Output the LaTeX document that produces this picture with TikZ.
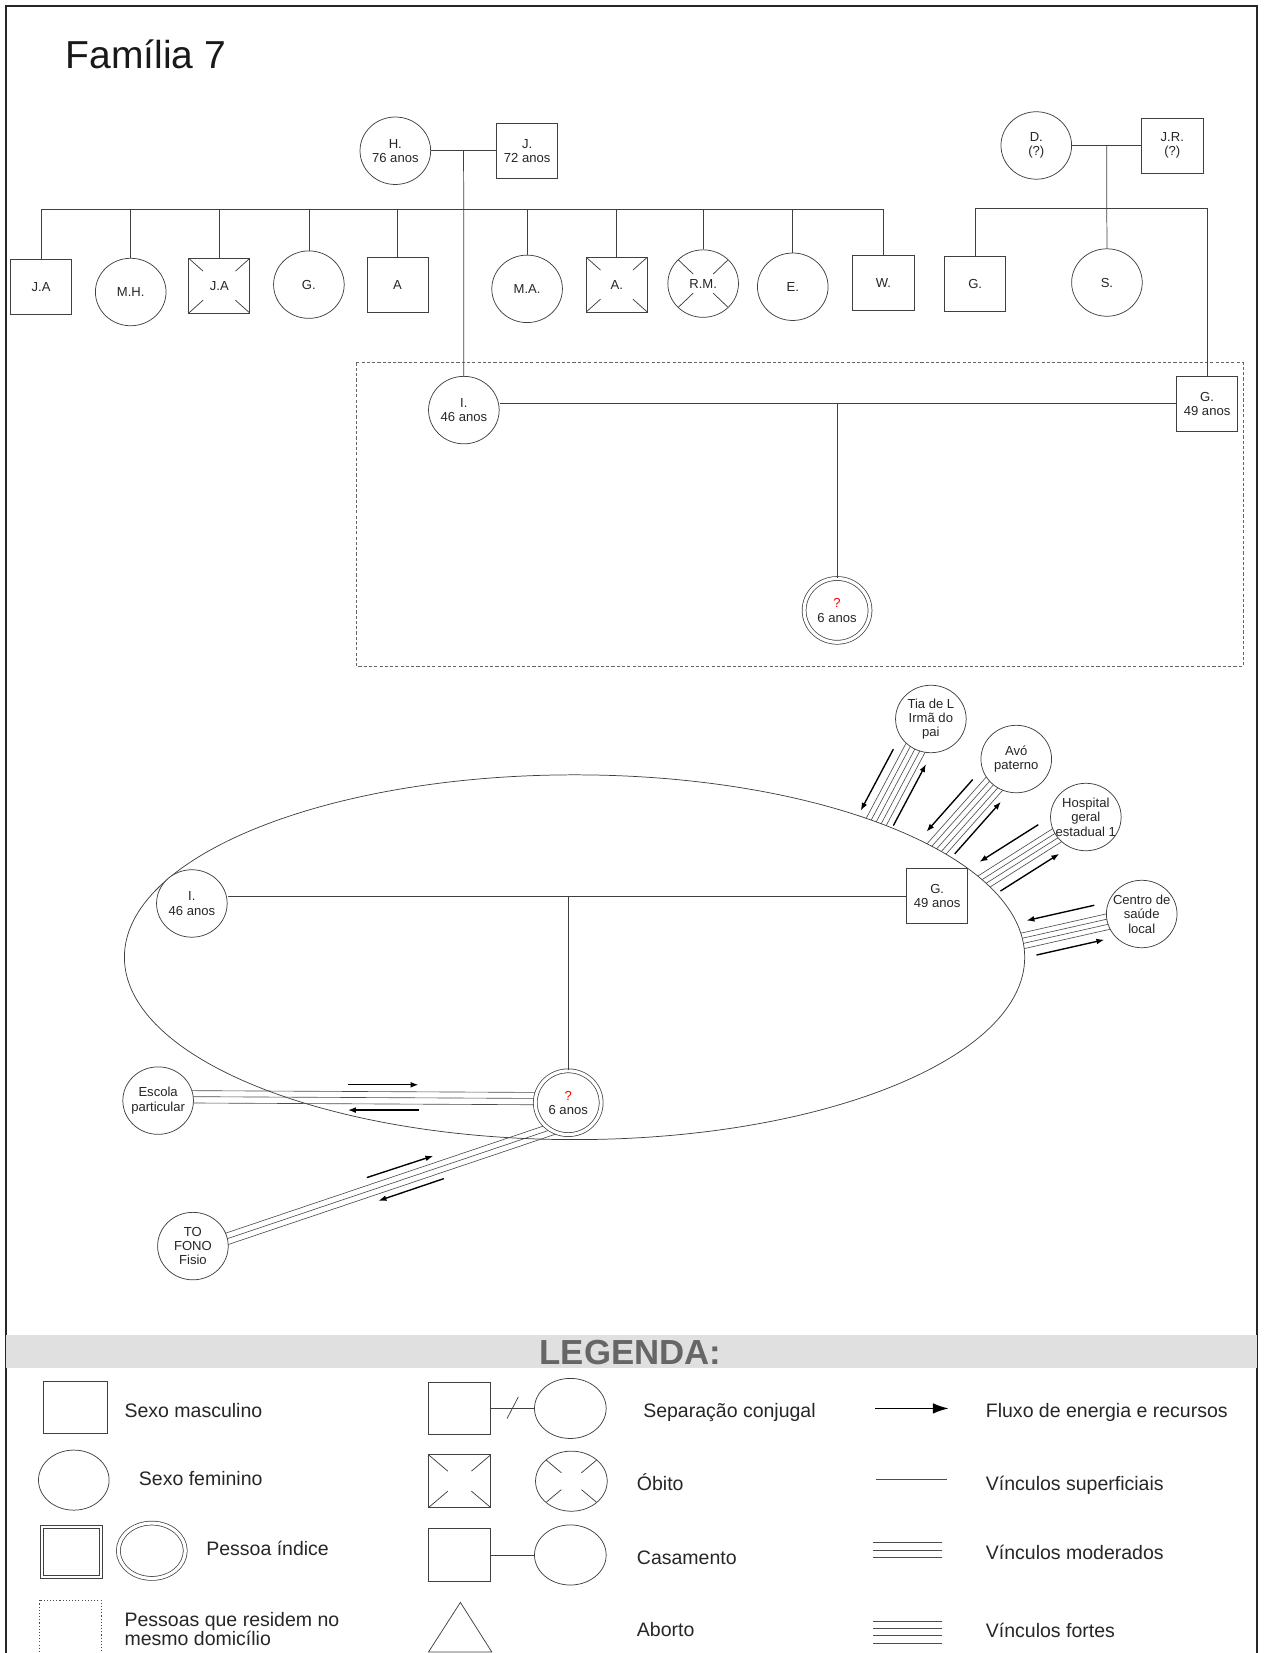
\documentclass[tikz,border=0pt]{standalone}
\usepackage{fontspec}
\setmainfont{Liberation Sans}
\usetikzlibrary{shapes.geometric,calc,arrows.meta,backgrounds}
\tikzset{
	txt/.style={font=\fontsize{12.4}{13.6}\selectfont,align=center,text=black!85,inner sep=0pt},
	person/.style={draw=black!75,line width=0.7pt,fill=white,inner sep=0pt,label={[txt]center:{#1}}},
	person/.default={},
	masc/.style={person={#1},rectangle,minimum width=58pt,minimum height=52pt},
	masc/.default={},
	fem/.style={person={#1},ellipse,minimum width=67pt,minimum height=64pt},
	fem/.default={},
	idx/.style={fem={#1},double,double distance=3pt,minimum width=62.5pt,minimum height=60.5pt},
	idx/.default={},
	deadsq/.style={path picture={\foreach \c in {north west,north east,south east,south west}
		\draw[black!75,line width=0.7pt] (path picture bounding box.\c) -- ($(path picture bounding box.\c)!#1!(path picture bounding box.center)$);}},
	deadsq/.default=0.47,
	deadci/.style={path picture={\foreach \c in {north west,north east,south east,south west}
		\draw[black!75,line width=0.7pt] ($(path picture bounding box.\c)!0.3!(path picture bounding box.center)$) -- ($(path picture bounding box.\c)!0.72!(path picture bounding box.center)$);}},
	kin/.style={draw=black!75,line width=0.7pt},
	tie/.style={draw=black!70,line width=0.6pt},
	flow/.style={-{Latex[length=7.5pt,width=5.5pt]},line width=1.3pt,black},
	legtxt/.style={font=\fontsize{18.5}{18.4}\selectfont,anchor=base west,align=left,text=black!85,inner sep=0pt}
}
\begin{document}
\begin{tikzpicture}[x=1pt,y=-1pt]
	\useasboundingbox (0,0) rectangle (1199,1568);
	\draw[line width=1.8pt,black!85] (6,1575) -- (6,6) -- (1192,6) -- (1192,1575);
	\node[font=\fontsize{37}{40}\selectfont,anchor=base west,text=black!90,inner sep=0pt] (title) at (62,65) {Família 7};

	\node[fem={H.\\76 anos}] (H) at (375,143) {};
	\node[masc={J.\\72 anos}] (J) at (500,143) {};
	\node[fem={D.\\(?)}] (D) at (983,138) {};
	\node[masc={J.R.\\(?)}] (JR) at (1112,138) {};
	\node[masc={J.A}] (c1) at (39,272) {};
	\node[fem={M.H.}] (c2) at (124,277) {};
	\node[masc={J.A},deadsq] (c3) at (208,271) {};
	\node[fem={G.}] (c4) at (293,270) {};
	\node[masc={A}] (c5) at (377,270) {};
	\node[fem={M.A.}] (c6) at (500,274) {};
	\node[masc={A.},deadsq] (c7) at (585,270) {};
	\node[fem={R.M.},deadci] (c8) at (667,269) {};
	\node[fem={E.}] (c9) at (752,272) {};
	\node[masc={W.}] (c10) at (838,268) {};
	\node[masc={G.}] (c11) at (925,269) {};
	\node[fem={S.}] (c12) at (1050,268) {};

	\draw[black!60,line width=0.8pt,dash pattern=on 3pt off 2pt] (338,344) rectangle (1179,632);
	\node[fem={I.\\46 anos}] (I) at (440,389) {};
	\node[masc={G.\\49 anos}] (G) at (1145,383) {};
	\node[idx={{\color{red}?}\\6 anos}] (K) at (794,579) {};

	\draw[kin] (H.east) -- (J.west);
	\coordinate (hj) at ($(H.east)!.5!(J.west)$);
	\coordinate (sib) at ($(hj)+(0,56)$);
	\draw[kin] (hj) -- (I.north);
	\draw[kin] (c1.north) |- (c10.north |- sib) -- (c10.north);
	\foreach \c in {c2,c3,c4,c5,c6,c7,c8,c9}
		\draw[kin] (\c.north) -- (\c.north |- sib);
	\draw[kin] (D.east) -- (JR.west);
	\coordinate (dj) at ($(D.east)!.5!(JR.west)$);
	\draw[kin] (dj) -- (c12.north);
	\draw[kin] (c11.north) |- ($(dj)+(0,60)$) -| (G.north);
	\draw[kin] (G.west) -- (G.west -| I.east);
	\draw[kin] (K.north) -- (K.north |- G.west);

	\draw[kin] (545,908) ellipse [x radius=427, y radius=173];
	\node[fem={I.\\46 anos}] (I2) at (182,857) {};
	\node[masc={G.\\49 anos}] (G2) at (889,850) {};
	\node[idx={{\color{red}?}\\6 anos}] (K2) at (539,1046) {};
	\node[fem={Escola\\particular}] (Esc) at (150,1044) {};
	\node[fem={TO\\FONO\\Fisio}] (TO) at (183,1182) {};
	\node[fem={Tia de L\\Irmã do\\pai}] (Tia) at (883,682) {};
	\node[fem={Avó\\paterno}] (Avo) at (964,720) {};
	\node[fem={Hospital\\geral\\estadual 1}] (Hosp) at (1030,775) {};
	\node[fem={Centro de\\saúde\\local}] (Cen) at (1083,867) {};
	\draw[kin] (G2.west) -- (G2.west -| I2.east);
	\draw[kin] (K2.north) -- (K2.north |- G2.west);

	\coordinate (tTia) at ($(Tia)+(-94,177)$);
	\coordinate (tAvo) at ($(Avo)+(-133,150)$);
	\coordinate (tHosp) at ($(Hosp)+(-169,107)$);
	\coordinate (tCen) at ($(Cen)+(-195,44)$);
	\coordinate (Tt) at ($(TO)+(0,4)$);
	\coordinate (Kt) at ($(K2)+(0,20)$);
	\begin{scope}[on background layer]
		\foreach \o in {9.6pt,3.9pt,-2.1pt}
			\draw[tie] ($(Esc)!\o!90:(K2)$) -- ($(K2)!\o!-90:(Esc)$);
		\foreach \o in {5.5pt,0pt,-5.5pt}
			\draw[tie] ($(Tt)!\o!90:(Kt)$) -- ($(Kt)!\o!-90:(Tt)$);
		\begin{scope}[even odd rule]
			\clip (545,908) ellipse [x radius=427, y radius=173] (0,0) rectangle (1199,1568);
			\foreach \o in {-10pt,-5pt,0pt,5pt,10pt} {
				\draw[tie] ($(Tia)!\o!90:(tTia)$) -- ($(tTia)!\o!-90:(Tia)$);
				\draw[tie] ($(Avo)!\o!90:(tAvo)$) -- ($(tAvo)!\o!-90:(Avo)$);
			}
			\foreach \o in {-7.5pt,-2.5pt,2.5pt,7.5pt} {
				\draw[tie] ($(Hosp)!\o!90:(tHosp)$) -- ($(tHosp)!\o!-90:(Hosp)$);
				\draw[tie] ($(Cen)!\o!90:(tCen)$) -- ($(tCen)!\o!-90:(Cen)$);
			}
		\end{scope}
	\end{scope}
	\foreach \x/\t in {Tia/tTia,Avo/tAvo,Hosp/tHosp,Cen/tCen} {
		\draw[flow] ($(\x)!42pt!(\t)!18pt!-90:(\t)$) -- ($(\x)!108pt!(\t)!18pt!-90:(\t)$);
		\draw[flow] ($(\x)!106pt!(\t)!16pt!90:(\t)$) -- ($(\x)!40pt!(\t)!16pt!90:(\t)$);
	}
	\draw[flow] (330,1029) -- (397,1029);
	\draw[flow] (397,1053) -- (330,1053);
	\draw[flow] (348,1117) -- (411,1096.4);
	\draw[flow] (421,1118) -- (359,1139);

	\fill[black!12] (6,1266) rectangle (1192,1298);
	\node[font=\bfseries\fontsize{33}{36}\selectfont,text=black!60,anchor=base,inner sep=0pt] (leg) at (598,1294) {LEGENDA:};
	\node[masc,minimum width=60pt,minimum height=50pt] (Lm) at (71.6,1335) {};
	\node[fem,minimum width=67pt,minimum height=57pt] (Lf) at (70,1404) {};
	\node[masc,minimum width=59pt,minimum height=50pt] (Lim) at (68,1472) {};
	\draw[kin] ($(Lim.north west)+(3.2,3.2)$) rectangle ($(Lim.south east)+(-3.2,-3.2)$);
	\node[fem,double,double distance=3pt,minimum width=63.5pt,minimum height=52.5pt] (Lif) at (144,1471) {};
	\draw[black!70,line width=0.8pt,dash pattern=on 1pt off 2pt] (37.6,1518) rectangle (96,1570);
	\node[masc,minimum width=59pt,minimum height=50pt] (Ls1) at (436,1336) {};
	\node[fem,minimum width=68pt,minimum height=57pt] (Ls2) at (541,1336) {};
	\draw[kin] (Ls1.east) -- (Ls2.west);
	\draw[kin] (481,1345.6) -- (491.7,1325);
	\node[masc,deadsq=0.62,minimum width=59pt,minimum height=50pt] (Lo1) at (436,1405) {};
	\node[fem,deadci,minimum width=68pt,minimum height=57pt] (Lo2) at (542,1405) {};
	\node[masc,minimum width=59pt,minimum height=50pt] (Lc1) at (436,1475) {};
	\node[fem,minimum width=68pt,minimum height=57pt] (Lc2) at (541,1475) {};
	\draw[kin] (Lc1.east) -- (Lc2.west);
	\draw[kin] (436.7,1520) -- (466.5,1567) -- (406.5,1567) -- cycle;
	\draw[line width=1.6pt,black,-{Latex[length=15pt,width=10pt]}] (830,1336) -- (900,1336);
	\draw[tie,line width=0.9pt] (831,1403.5) -- (898.5,1403.5);
	\foreach \y in {1463.6,1470.3,1477.2}
		\draw[tie,line width=0.9pt] (828,\y) -- (894,\y);
	\foreach \y in {1538,1545,1551.6,1558.5}
		\draw[tie,line width=0.9pt] (828,\y) -- (894,\y);
	\node[legtxt] (t1) at (118,1345) {Sexo masculino};
	\node[legtxt] (t2) at (131.6,1409.5) {Sexo feminino};
	\node[legtxt] (t3) at (195.5,1475.6) {Pessoa índice};
	\node[legtxt] (t4) at (118,1561) {Pessoas que residem no\\mesmo domicílio};
	\node[legtxt] (t5) at (610,1344.7) {Separação conjugal};
	\node[legtxt] (t6) at (604,1414.2) {Óbito};
	\node[legtxt] (t7) at (604,1484) {Casamento};
	\node[legtxt] (t8) at (604,1552) {Aborto};
	\node[legtxt] (t9) at (935,1344.7) {Fluxo de energia e recursos};
	\node[legtxt] (t10) at (935,1413.6) {Vínculos superficiais};
	\node[legtxt] (t11) at (935,1479) {Vínculos moderados};
	\node[legtxt] (t12) at (935,1553.3) {Vínculos fortes};
\end{tikzpicture}
\end{document}
